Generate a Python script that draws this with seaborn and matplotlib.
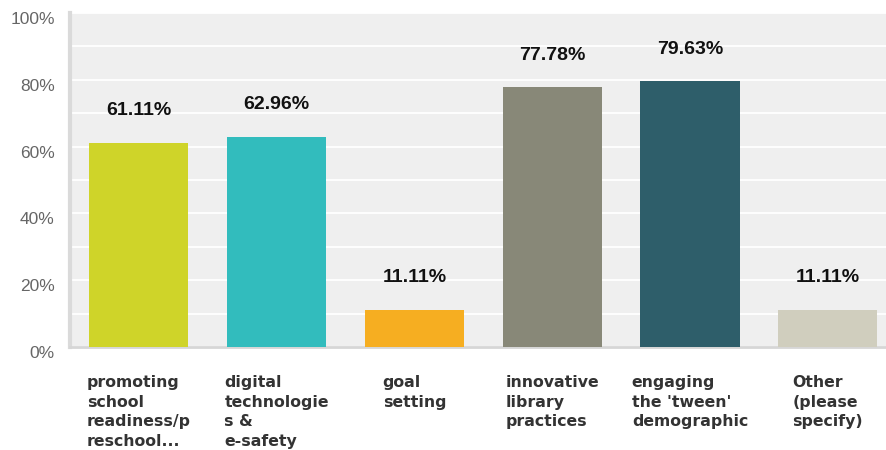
import matplotlib
matplotlib.use("Agg")
import matplotlib.pyplot as plt
import seaborn as sns
import pandas as pd
from matplotlib.ticker import MultipleLocator
import matplotlib.transforms as mtransforms

categories = [
    "promoting\nschool\nreadiness/p\nreschool...",
    "digital\ntechnologie\ns &\ne-safety",
    "goal\nsetting",
    "innovative\nlibrary\npractices",
    "engaging\nthe 'tween'\ndemographic",
    "Other\n(please\nspecify)",
]
values = [61.11, 62.96, 11.11, 77.78, 79.63, 11.11]
colors = ["#cfd429", "#32bcbd", "#f6ae21", "#888878", "#2e5e6a", "#d0cebe"]
y_ticks = [0, 20, 40, 60, 80, 100]
y_tick_labels = ["0%", "20%", "40%", "60%", "80%", "100%"]

df = pd.DataFrame({"cat": categories, "val": values})

sns.set_theme(style="white")
plt.rcParams["font.family"] = ["Liberation Sans", "DejaVu Sans"]

fig = plt.figure(figsize=(8.87, 4.5), dpi=100)
ax = fig.add_axes([70 / 887, 1 - 347 / 450, 1 - 70 / 887, 334 / 450])
ax.set_facecolor("#efefef")

sns.barplot(data=df, x="cat", y="val", hue="cat", palette=colors, legend=False,
            width=0.72, saturation=1, ax=ax, zorder=3, linewidth=0)

ax.set_xlim(-0.5, 5.43)
ax.set_ylim(0, 100)
ax.yaxis.set_minor_locator(MultipleLocator(10))
ax.set_yticks(y_ticks)
ax.set_yticklabels(y_tick_labels)
ax.grid(True, which="both", axis="y", color="white", linewidth=1.3, zorder=0)
ax.set_axisbelow(True)

for s in ["top", "right"]:
    ax.spines[s].set_visible(False)
ax.spines["left"].set_color("#dadada")
ax.spines["left"].set_linewidth(3)
ax.spines["bottom"].set_color("#d6d6d6")
ax.spines["bottom"].set_linewidth(2)

ax.set_xlabel("")
ax.set_ylabel("")
ax.tick_params(axis="y", which="both", length=0, pad=11, labelsize=12.5, labelcolor="#666666")
ax.tick_params(axis="x", length=0, pad=20)
offset = mtransforms.ScaledTranslation(0, -5 / 100, fig.dpi_scale_trans)
for lab in ax.get_yticklabels():
    lab.set_transform(lab.get_transform() + offset)

for lab in ax.get_xticklabels():
    lab.set_fontfamily(["DejaVu Sans"])
    lab.set_fontweight("bold")
    lab.set_fontsize(11.3)
    lab.set_color("#333333")
    lab.set_verticalalignment("top")
    lab.set_multialignment("left")
    lab.set_linespacing(1.4)

for i, v in enumerate(values):
    ax.annotate(f"{v:.2f}%", xy=(i, v), xytext=(0, 32), textcoords="offset pixels",
                ha="center", va="center", fontsize=14, fontweight="bold", color="#111111")

fig.savefig("out.png", dpi=100)
